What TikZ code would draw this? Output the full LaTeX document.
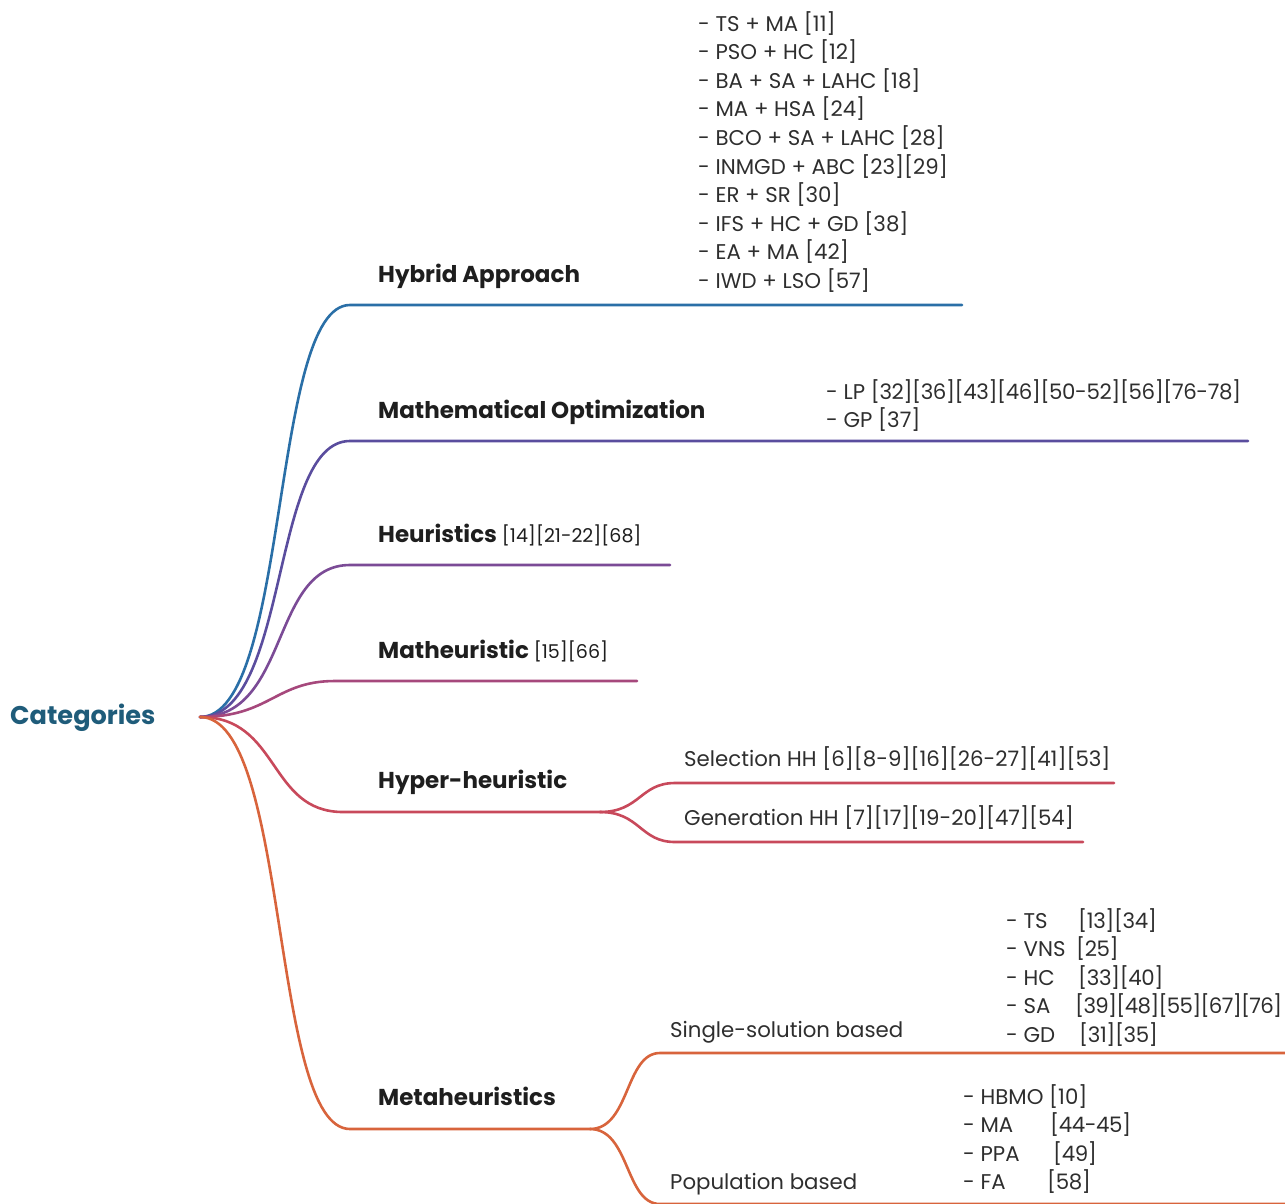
\documentclass[tikz,border=0pt]{standalone}
\usepackage{fontspec}
\setmainfont{Poppins}
\newfontfamily\numf[LetterSpace=-1.8]{Poppins}
\newfontfamily\numt[LetterSpace=-3.2]{Poppins}
\definecolor{txt}{HTML}{1E1E1E}
\definecolor{txtb}{HTML}{2E2E2E}
\definecolor{rootc}{HTML}{1F5C7A}
\definecolor{cA}{HTML}{2A6FA7}
\definecolor{cB}{HTML}{5A4D9E}
\definecolor{cC}{HTML}{7B4B96}
\definecolor{cD}{HTML}{A6487C}
\definecolor{cE}{HTML}{C8495B}
\definecolor{cF}{HTML}{D8643C}
\newcommand\lst[1]{\begin{tabular}[t]{@{}l@{}}#1\end{tabular}}
\newcommand\refsz{\fontsize{19}{22}\selectfont\mdseries}
\newcommand\nm[1]{{\numf #1}}
\newcommand\nmt[1]{{\numt #1}}
\begin{document}
\begin{tikzpicture}[x=1pt,y=-1pt,
  lbl/.style={anchor=base west, inner sep=0, font=\fontsize{23}{26}\selectfont\bfseries, text=txt},
  itm/.style={anchor=base west, inner sep=0, font=\fontsize{21.3}{28.6}\selectfont, text=txtb},
  br/.style={line width=2.6pt, line cap=round}]
\useasboundingbox (0,0) rectangle (1285,1203);

% root
\node[anchor=base west, inner sep=0, font=\fontsize{25.6}{28}\selectfont\bfseries, text=rootc] (cat) at (10,724) {Categories};
\coordinate (root) at (200,717);

% branch coordinates
\coordinate (hA) at (350,305);  \coordinate (hB) at (962,305);
\coordinate (mA) at (350,441);  \coordinate (mB) at (1248,441);
\coordinate (eA) at (350,565);  \coordinate (eB) at (670,565);
\coordinate (tA) at (335,681);  \coordinate (tB) at (637,681);
\coordinate (yA) at (343,812);  \coordinate (yB) at (600,812);
\coordinate (sA) at (675,783);  \coordinate (sB) at (1114,783);
\coordinate (gA) at (675,842);  \coordinate (gB) at (1083,842);
\coordinate (zA) at (350,1129); \coordinate (zB) at (590,1129);
\coordinate (pA) at (660,1053); \coordinate (pB) at (1290,1053);
\coordinate (qA) at (660,1204); \coordinate (qB) at (1290,1204);

\draw[br,cA] (root) .. controls +(90,0) and +(-80,0) .. (hA) -- (hB);
\draw[br,cB] (root) .. controls +(90,0) and +(-80,0) .. (mA) -- (mB);
\draw[br,cC] (root) .. controls +(90,0) and +(-80,0) .. (eA) -- (eB);
\draw[br,cD] (root) .. controls +(70,0) and +(-60,0) .. (tA) -- (tB);
\draw[br,cE] (root) .. controls +(80,0) and +(-75,0) .. (yA) -- (yB);
\draw[br,cE] (yB) .. controls +(40,0) and +(-35,0) .. (sA) -- (sB);
\draw[br,cE] (yB) .. controls +(40,0) and +(-35,0) .. (gA) -- (gB);
\draw[br,cF] (root) .. controls +(90,0) and +(-80,0) .. (zA) -- (zB);
\draw[br,cF] (zB) .. controls +(40,0) and +(-35,0) .. (pA) -- (pB);
\draw[br,cF] (zB) .. controls +(40,0) and +(-35,0) .. (qA) -- (qB);

% labels
\node[lbl] (hyb) at (378,282) {Hybrid Approach};
\node[itm] (hybl) at (698,31) {\lst{- TS + MA [11]\\- PSO + HC [12]\\- BA + SA + LAHC [18]\\- MA + HSA [24]\\- BCO + SA + LAHC [28]\\- INMGD + ABC [23][29]\\- ER + SR [30]\\- IFS + HC + GD [38]\\- EA + MA [42]\\- IWD + LSO [57]}};

\node[lbl] (mat) at (378,418) {Mathematical Optimization};
\node[itm] (matl) at (826,399) {\lst{- LP \nm{[32][36][43][46][50-52][56][76-78]}\\- GP [37]}};

\node[lbl] (heu) at (378,542) {Heuristics {\refsz [14][21-22][68]}};
\node[lbl] (mth) at (378,658) {Matheuristic {\refsz [15][66]}};

\node[lbl] (hyp) at (378,788) {Hyper-heuristic};
\node[itm] (sel) at (684,766) {Selection HH [6][8-9][16][26-27][41][53]};
\node[itm] (gen) at (684,825) {Generation HH [7][17][19-20][47][54]};

\node[lbl] (met) at (378,1105) {Metaheuristics};
\node[itm] (sng) at (670,1037) {Single-solution based};
\node[itm] (sngl) at (1006,928) {\lst{\makebox[72pt][l]{- TS}\nm{[13][34]}\\\makebox[70pt][l]{- VNS}\nm{[25]}\\\makebox[72pt][l]{- HC}\nm{[33][40]}\\\makebox[69pt][l]{- SA}\nmt{[39][48][55][67][76]}\\\makebox[73pt][l]{- GD}\nm{[31][35]}}};
\node[itm] (pop) at (670,1189) {Population based};
\node[itm] (popl) at (963,1104) {\lst{- HBMO [10]\\\makebox[87pt][l]{- MA}\nm{[44-45]}\\\makebox[90pt][l]{- PPA}\nm{[49]}\\\makebox[84pt][l]{- FA}\nm{[58]}}};
\end{tikzpicture}
\end{document}
